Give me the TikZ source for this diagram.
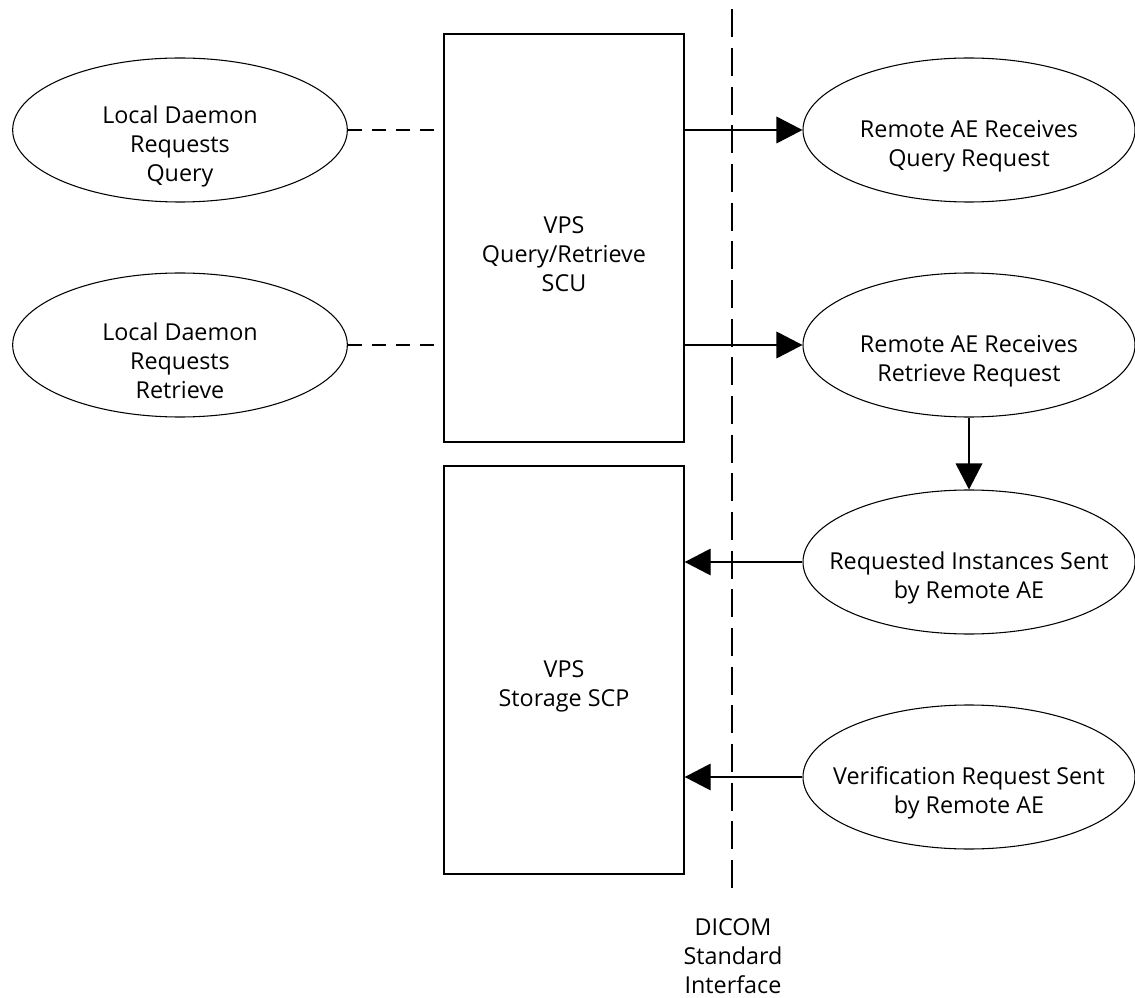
\documentclass[tikz,border=0pt]{standalone}
\usepackage{fontspec}
\setmainfont{Open Sans}
\usetikzlibrary{shapes.geometric,arrows.meta}
\begin{document}
\begin{tikzpicture}[x=0.75pt,y=-0.75pt,
  every node/.style={font=\fontsize{17.5pt}{21.75pt}\selectfont},
  oval/.style={draw, ellipse, line width=0.8pt, minimum width=249pt, minimum height=108pt, inner sep=0pt},
  box/.style={draw, rectangle, line width=1.1pt, minimum width=180pt, minimum height=306pt, inner sep=0pt},
  txt/.style={align=center, yshift=-12pt},
  arr/.style={line width=1pt, -{Triangle[length=19.5pt, width=20pt]}},
  dline/.style={line width=1pt, dash pattern=on 10.5pt off 7.5pt},
  vline/.style={line width=1.1pt, dash pattern=on 21pt off 8pt}]
\useasboundingbox (0,0) rectangle (1135,998);
% left ellipses
\node[oval, minimum width=251pt, label={[txt]center:Local Daemon\\Requests\\Query}] (lq) at (180,130) {};
\node[oval, minimum width=251pt, label={[txt]center:Local Daemon\\Requests\\Retrieve}] (lr) at (180,345) {};
% boxes
\node[box, label={[txt]center:VPS\\Query/Retrieve\\SCU}] (b1) at (564,238) {};
\node[box, label={[txt]center:VPS\\Storage SCP}] (b2) at (564,670) {};
% right ellipses
\node[oval, label={[txt]center:Remote AE Receives\\Query Request}] (rq) at (969,130) {};
\node[oval, label={[txt]center:Remote AE Receives\\Retrieve Request}] (rr) at (969,345) {};
\node[oval, label={[txt]center:Requested Instances Sent\\by Remote AE}] (ri) at (969,562) {};
\node[oval, label={[txt]center:Verification Request Sent\\by Remote AE}] (rv) at (969,777) {};
% interface line
\coordinate (itop) at (732,9.3);
\coordinate (ibot) at (732,888.7);
\draw[vline] (itop) -- (ibot);
\node[align=center] (dicom) at (733,956) {DICOM\\Standard\\Interface};
% connectors
\draw[dline, shorten >=5pt] (lq.east) -- (b1.west |- lq.east);
\draw[dline, shorten >=5pt] (lr.east) -- (b1.west |- lr.east);
\draw[arr] (b1.east |- rq.west) -- (rq.west);
\draw[arr] (b1.east |- rr.west) -- (rr.west);
\draw[arr] (rr.south) -- (ri.north);
\draw[arr] (ri.west) -- (b2.east |- ri.west);
\draw[arr] (rv.west) -- (b2.east |- rv.west);
\end{tikzpicture}
\end{document}
